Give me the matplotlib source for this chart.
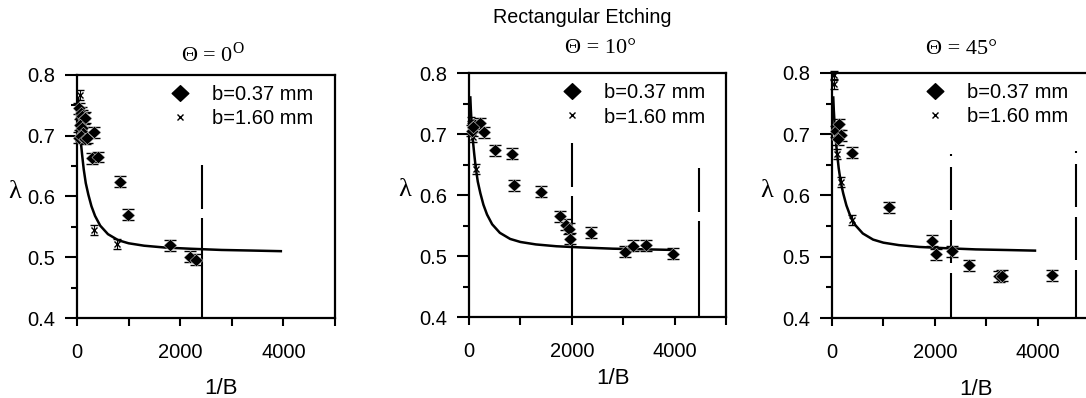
import matplotlib
matplotlib.use("Agg")
import matplotlib.pyplot as plt
from matplotlib.lines import Line2D
from matplotlib.path import Path

plt.rcParams["font.family"] = "Liberation Sans"
plt.rcParams["mathtext.fontset"] = "custom"
plt.rcParams["mathtext.rm"] = "Liberation Serif"

# theoretical curve (same in all panels)
curve_x = [25, 35, 45, 60, 80, 100, 130, 170, 220, 280, 350, 450, 600, 800,
           1000, 1300, 1700, 2200, 2800, 3400, 3950]
curve_y = [0.760, 0.740, 0.725, 0.705, 0.685, 0.668, 0.645, 0.622, 0.603, 0.584,
           0.568, 0.552, 0.538, 0.528, 0.523, 0.519, 0.516, 0.514, 0.512, 0.511, 0.510]

# theta = 0
p1_d_x = [40, 70, 100, 130, 160, 55, 90, 120, 45, 80, 150, 200,
          320, 285, 415, 840, 985, 1800, 2195, 2300]
p1_d_y = [0.745, 0.738, 0.733, 0.728, 0.730, 0.718, 0.712, 0.705, 0.697, 0.700, 0.695, 0.697,
          0.706, 0.663, 0.665, 0.624, 0.570, 0.520, 0.501, 0.496]
p1_x_x = [55, 30, 60, 320, 780]
p1_x_y = [0.767, 0.735, 0.705, 0.545, 0.522]
p1_vlines = [(2430, 0.652)]

# theta = 10
p2_d_x = [65, 110, 215, 300, 80, 505, 845, 880, 1395, 1770, 1880, 1940, 1960,
          2375, 3035, 3200, 3445, 3975]
p2_d_y = [0.705, 0.714, 0.718, 0.703, 0.712, 0.673, 0.668, 0.616, 0.605, 0.565, 0.551, 0.545, 0.528,
          0.538, 0.507, 0.517, 0.518, 0.504]
p2_x_x = [30, 40, 70, 140]
p2_x_y = [0.720, 0.710, 0.695, 0.643]
p2_vlines = [(2010, 0.685), (4480, 0.644)]

# theta = 45
p3_d_x = [80, 140, 185, 110, 385, 1100, 1945, 2020, 2335, 2670, 3250, 3310, 4290]
p3_d_y = [0.705, 0.716, 0.698, 0.692, 0.670, 0.581, 0.526, 0.504, 0.509, 0.486, 0.468, 0.469, 0.470]
p3_x_x = [30, 35, 60, 95, 175, 395]
p3_x_y = [0.796, 0.782, 0.710, 0.668, 0.622, 0.560]
p3_vlines = [(2310, 0.667), (4740, 0.672)]

diamond = Path([(-0.5, 0), (0, 0.47), (0.5, 0), (0, -0.47), (-0.5, 0)],
               [Path.MOVETO, Path.LINETO, Path.LINETO, Path.LINETO, Path.CLOSEPOLY])

# dash patterns in pixels, converted to points and divided by the line width
px = 0.72 / 1.5
dashed = tuple(v * px for v in (44, 9, 150, 10))
dashdot = tuple(v * px for v in (2, 11, 43, 10, 43, 10, 80, 10))

fig = plt.figure(figsize=(10.86, 3.98), dpi=100)

panels = [
    ([0.0709, 0.201, 0.2376, 0.6106], "Θ = $0^{\\mathrm{O}}$", (0.527, 1.085),
     p1_d_x, p1_d_y, p1_x_x, p1_x_y, p1_vlines, dashed, -0.29, -0.24),
    ([0.4319, 0.2035, 0.2366, 0.613], "Θ = 10°", (0.51, 1.10),
     p2_d_x, p2_d_y, p2_x_x, p2_x_y, p2_vlines, dashed, -0.25, -0.249),
    ([0.7661, 0.201, 0.2366, 0.6156], "Θ = 45°", (0.506, 1.094),
     p3_d_x, p3_d_y, p3_x_x, p3_x_y, p3_vlines, dashdot, -0.29, -0.253),
]

for rect, title, tpos, dx, dy, xx, xy, vl, dash, xlab_y, ylab_x in panels:
    ax = fig.add_axes(rect)
    ax.plot(curve_x, curve_y, color="black", lw=1.8, zorder=2)
    ax.errorbar(dx, dy, yerr=0.009, fmt="none", ecolor="black", elinewidth=1.0,
                capsize=4.5, capthick=1.0, clip_on=False, zorder=3)
    ax.plot(dx, dy, linestyle="none", marker=diamond, markersize=9.5,
            color="black", markeredgecolor="white", markeredgewidth=0.3,
            clip_on=False, zorder=4)
    ax.errorbar(xx, xy, yerr=0.008, fmt="x", color="black", markersize=5,
                mew=1.0, elinewidth=0.8, capsize=3, capthick=0.8,
                clip_on=False, zorder=3)
    for vx, vtop in vl:
        ax.plot([vx, vx], [vtop, 0.4], color="black", lw=1.5,
                linestyle=(0, dash), clip_on=False, zorder=2)

    ax.set_xlim(0, 5000)
    ax.set_ylim(0.4, 0.8)
    ax.set_xticks([0, 2000, 4000])
    ax.set_xticks([1000, 3000, 5000], minor=True)
    ax.set_yticks([0.4, 0.5, 0.6, 0.7, 0.8])
    ax.set_yticks([0.45, 0.55, 0.65, 0.75], minor=True)
    ax.tick_params(axis="x", which="both", direction="out", length=6, width=1.5,
                   pad=12, labelsize=14.5)
    ax.tick_params(axis="y", which="major", direction="out", length=9, width=1.5,
                   pad=7, labelsize=14.5)
    ax.tick_params(axis="y", which="minor", direction="out", length=4, width=1.5)
    for s in ax.spines.values():
        s.set_linewidth(1.6)

    ax.set_xlabel("1/B", fontsize=16, va="center")
    ax.xaxis.set_label_coords(0.56, xlab_y)
    ax.set_ylabel("λ", fontsize=19, family="Liberation Serif", rotation=0, va="center")
    ax.yaxis.set_label_coords(ylab_x, 0.52)
    ax.text(tpos[0], tpos[1], title, transform=ax.transAxes, ha="center", va="center",
            fontsize=16, family="Liberation Serif")

    handles = [
        Line2D([], [], linestyle="none", marker=diamond, markersize=12, color="black"),
        Line2D([], [], linestyle="none", marker="x", markersize=5, mew=1.0, color="black"),
    ]
    ax.legend(handles, ["b=0.37 mm", "b=1.60 mm"], loc="upper left",
              bbox_to_anchor=(0.305, 1.015), frameon=False, fontsize=14.5,
              handlelength=1.0, handletextpad=1.1, labelspacing=0.25, borderpad=0.2)

fig.text(0.536, 0.957, "Rectangular Etching", ha="center", va="center", fontsize=14.2)

fig.savefig("out.png", dpi=100)
